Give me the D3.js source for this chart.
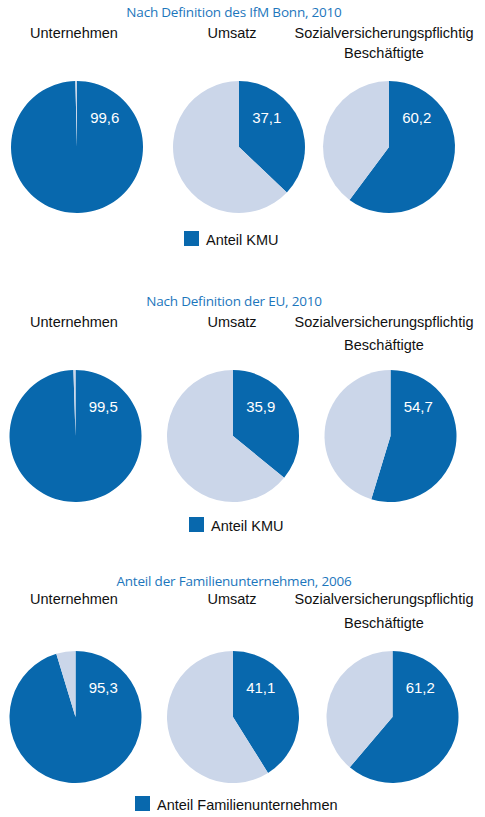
<!DOCTYPE html>
<html>
<head>
<meta charset="utf-8">
<script src="https://cdn.jsdelivr.net/npm/d3@7"></script>
<style>
  body { margin: 0; background: #fff; }
  svg { display: block; }
</style>
</head>
<body>
<svg id="chart" width="485" height="817"></svg>
<script>
// chart values
var panelTitles = ["Nach Definition des IfM Bonn, 2010",
                   "Nach Definition der EU, 2010",
                   "Anteil der Familienunternehmen, 2006"];
var measures = ["Unternehmen", "Umsatz", "Sozialversicherungspflichtig\nBeschäftigte"];
var sharesIfM = [99.6, 37.1, 60.2];
var sharesEU = [99.5, 35.9, 54.7];
var sharesFamily = [95.3, 41.1, 61.2];
var legendLabels = ["Anteil KMU", "Anteil KMU", "Anteil Familienunternehmen"];

var dark = "#0868ad", light = "#cbd6e9", titleBlue = "#1c76bc";

// layout of each block (title baseline, pie centre line, legend baseline)
var layout = [
    {title: 17, sub: 38, sub2: 58, cy: 147, legend: 245, cx: [77, 239, 389], legX: 184},
    {title: 306, sub: 327, sub2: 350, cy: 436, legend: 531, cx: [75.5, 233, 390.5], legX: 189},
    {title: 586, sub: 604, sub2: 628, cy: 717, legend: 810, cx: [75.5, 233, 392.5], legX: 135}
];
var subX = [74, 232, 384];
var radius = 66;

var svg = d3.select("#chart");
var allShares = [sharesIfM, sharesEU, sharesFamily];

var pie = d3.pie().sort(null).value(function(d) { return d; });
var arc = d3.arc().innerRadius(0).outerRadius(radius);
var color = d3.scaleOrdinal().domain([0, 1]).range([dark, light]);
var fmt = function(v) { return d3.format(".1f")(v).replace(".", ","); };

allShares.forEach(function(shares, p) {
    var L = layout[p];
    var g = svg.append("g");

    g.append("text")
        .attr("x", 234).attr("y", L.title)
        .attr("text-anchor", "middle")
        .style("font-family", "'Open Sans', sans-serif")
        .style("font-size", "13.5px")
        .style("letter-spacing", "-0.2px")
        .style("fill", titleBlue)
        .text(panelTitles[p]);

    measures.forEach(function(m, i) {
        var lines = m.split("\n");
        lines.forEach(function(line, k) {
            g.append("text")
                .attr("x", subX[i])
                .attr("y", k === 0 ? L.sub : L.sub2)
                .attr("text-anchor", "middle")
                .style("font-family", "'Liberation Sans', Arial, sans-serif")
                .style("font-size", "14.5px")
                .style("fill", "#111")
                .text(line);
        });

        var pg = g.append("g")
            .attr("transform", "translate(" + L.cx[i] + "," + L.cy + ")");

        pg.selectAll("path")
            .data(pie([shares[i], 100 - shares[i]]))
            .enter()
            .append("path")
            .attr("d", arc)
            .style("fill", function(d, j) { return color(j); });

        pg.append("text")
            .attr("x", radius * 0.2)
            .attr("y", -radius * 0.36)
            .style("font-family", "'Liberation Sans', Arial, sans-serif")
            .style("font-size", "15px")
            .style("fill", "#fff")
            .text(fmt(shares[i]));
    });

    // legend
    g.append("rect")
        .attr("x", L.legX).attr("y", L.legend - 14)
        .attr("width", 15).attr("height", 15)
        .style("fill", dark);
    g.append("text")
        .attr("x", L.legX + 22).attr("y", L.legend)
        .style("font-family", "'Liberation Sans', Arial, sans-serif")
        .style("font-size", "14.5px")
        .style("fill", "#111")
        .text(legendLabels[p]);
});
</script>
</body>
</html>
